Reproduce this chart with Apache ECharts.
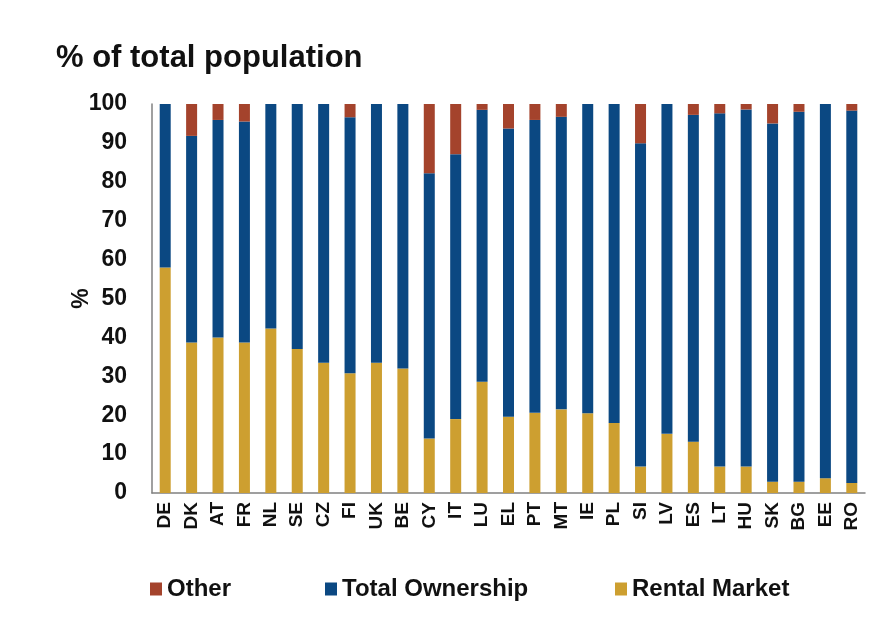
<!DOCTYPE html>
<html>
<head>
<meta charset="utf-8">
<script src="https://cdn.jsdelivr.net/npm/echarts@6/dist/echarts.min.js"></script>
<style>
html,body{margin:0;padding:0;background:#fff;}
#chart{width:885px;height:622px;}
</style>
</head>
<body>
<div id="chart"></div>
<script>
var categories = ['DE','DK','AT','FR','NL','SE','CZ','FI','UK','BE','CY','IT','LU','EL','PT','MT','IE','PL','SI','LV','ES','LT','HU','SK','BG','EE','RO'];
var rentalMarket = [58, 38.7, 40, 38.7, 42.3, 37, 33.5, 30.8, 33.5, 32, 14, 19, 28.6, 19.6, 20.6, 21.5, 20.5, 18, 6.8, 15.2, 13.2, 6.8, 6.8, 2.9, 2.9, 3.8, 2.6];
var totalOwnership = [42, 53.1, 55.9, 56.8, 57.7, 63, 66.5, 65.8, 66.5, 68, 68.2, 68.1, 69.9, 74.1, 75.3, 75.2, 79.5, 82, 83.1, 84.8, 84, 90.8, 91.8, 92.1, 95.1, 96.2, 95.7];
var other = [0, 8.2, 4.1, 4.5, 0, 0, 0, 3.4, 0, 0, 17.8, 12.9, 1.5, 6.3, 4.1, 3.3, 0, 0, 10.1, 0, 2.8, 2.4, 1.4, 5, 2, 0, 1.7];
var yTicks = {min: 0, max: 100, interval: 10};

var FONT = '"Liberation Sans", Arial, sans-serif';
var cGold = '#cd9f30', cBlue = '#0b4882', cRed = '#a4432c';

var chart = echarts.init(document.getElementById('chart'));
function legendAt(name, left) {
  return {
    data: [name], left: left, top: 577, orient: 'horizontal', padding: 0,
    icon: 'rect', itemWidth: 12, itemHeight: 13, itemGap: 5,
    textStyle: {fontFamily: FONT, fontSize: 24, fontWeight: 'bold', color: '#111'},
    selectedMode: false
  };
}
chart.setOption({
  animation: false,
  backgroundColor: '#fff',
  title: {
    text: '% of total population', left: 56, top: 43, padding: 0,
    textStyle: {fontFamily: FONT, fontSize: 31, fontWeight: 'bold', color: '#111'}
  },
  legend: [legendAt('Other', 150), legendAt('Total Ownership', 325), legendAt('Rental Market', 615)],
  grid: {left: 152, right: 20, top: 104, bottom: 129, containLabel: false},
  xAxis: {
    type: 'category', data: categories,
    axisLine: {show: true, lineStyle: {color: '#808080', width: 1.5}},
    axisTick: {show: false},
    axisLabel: {rotate: 90, margin: 9, interval: 0, fontFamily: FONT, fontSize: 19, fontWeight: 'bold', color: '#111'}
  },
  yAxis: {
    type: 'value', min: yTicks.min, max: yTicks.max, interval: yTicks.interval,
    name: '%', nameLocation: 'middle', nameRotate: 90, nameGap: 59, nameMoveOverlap: false,
    nameTextStyle: {fontFamily: FONT, fontSize: 23, fontWeight: 'bold', color: '#111'},
    axisLine: {show: true, lineStyle: {color: '#808080', width: 1.5}},
    axisTick: {show: false},
    splitLine: {show: false},
    axisLabel: {margin: 25, fontFamily: FONT, fontSize: 23, fontWeight: 'bold', color: '#111'}
  },
  series: [
    {name: 'Rental Market', type: 'bar', stack: 'pop', data: rentalMarket, barWidth: 11, itemStyle: {color: cGold}},
    {name: 'Total Ownership', type: 'bar', stack: 'pop', data: totalOwnership, barWidth: 11, itemStyle: {color: cBlue}},
    {name: 'Other', type: 'bar', stack: 'pop', data: other, barWidth: 11, itemStyle: {color: cRed}}
  ]
});
</script>
</body>
</html>
